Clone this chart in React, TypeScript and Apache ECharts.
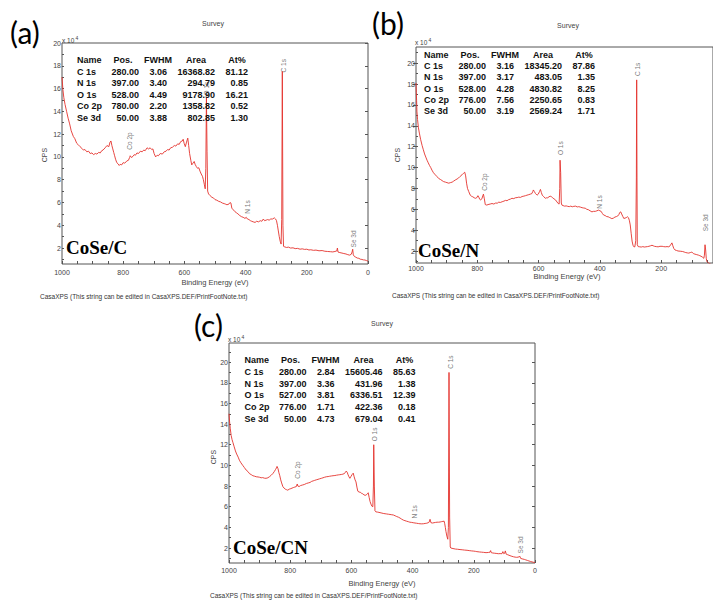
import React, { useEffect, useRef } from "react";
import * as echarts from "echarts";

// ---------------- DATA ----------------
const peakNames = ["C 1s", "N 1s", "O 1s", "Co 2p", "Se 3d"];
const tableHeaders = ["Name", "Pos.", "FWHM", "Area", "At%"];

const posA = ["280.00", "397.00", "528.00", "780.00", "50.00"];
const fwhmA = ["3.06", "3.40", "4.49", "2.20", "3.88"];
const areaA = ["16368.82", "294.79", "9178.90", "1358.82", "802.85"];
const atA = ["81.12", "0.85", "16.21", "0.52", "1.30"];

const posB = ["280.00", "397.00", "528.00", "776.00", "50.00"];
const fwhmB = ["3.16", "3.17", "4.28", "7.56", "3.19"];
const areaB = ["18345.20", "483.05", "4830.82", "2250.65", "2569.24"];
const atB = ["87.86", "1.35", "8.25", "0.83", "1.71"];

const posC = ["280.00", "397.00", "527.00", "776.00", "50.00"];
const fwhmC = ["2.84", "3.36", "3.81", "1.71", "4.73"];
const areaC = ["15605.46", "431.96", "6336.51", "422.36", "679.04"];
const atC = ["85.63", "1.38", "12.39", "0.18", "0.41"];

const xTickValues = [0, 50, 100, 150, 200, 250, 300, 350, 400, 450, 500, 550, 600, 650, 700, 750, 800, 850, 900, 950, 1000];
const xLabelValues = [0, 200, 400, 600, 800, 1000];
const yLabelValues = [2, 4, 6, 8, 10, 12, 14, 16, 18, 20];
const yMinorValues = [1, 2, 3, 4, 5, 6, 7, 8, 9, 10, 11, 12, 13, 14, 15, 16, 17, 18, 19, 20, 21];

// spectra: [binding energy (eV), CPS x 10^4]
const spectrumA = [
  [1000, 17.0], [997, 15.9], [994, 15.2], [990, 14.6], [985, 14.0], [980, 13.4], [975, 12.9], [970, 12.3], [963, 11.8], [958, 11.6], [952, 11.2], [948, 11.1], [941, 10.9], [935, 10.75], [930, 10.6], [925, 10.65], [919, 10.45], [913, 10.5], [908, 10.3], [902, 10.35], [897, 10.2], [891, 10.3], [886, 10.25], [880, 10.4], [875, 10.35], [870, 10.55], [866, 10.6], [859, 10.8], [853, 11.0], [847, 10.9], [843, 11.3], [840, 11.4], [837, 11.0], [834, 10.7], [831, 10.4], [828, 10.1], [825, 9.8], [821, 9.5], [817, 9.4], [813, 9.25], [810, 9.35], [805, 9.3], [800, 9.5], [795, 9.45], [788, 9.65], [783, 9.7], [779, 9.95], [777, 10.1], [773, 9.95], [768, 10.05], [764, 10.2], [760, 10.15], [755, 10.35], [750, 10.3], [744, 10.5], [738, 10.45], [733, 10.6], [728, 10.55], [722, 10.8], [717, 10.7], [712, 10.8], [707, 10.65], [703, 10.7], [699, 10.3], [694, 10.0], [689, 10.15], [685, 10.1], [679, 10.3], [672, 10.25], [666, 10.45], [660, 10.5], [655, 10.65], [650, 10.6], [645, 10.8], [639, 10.85], [633, 11.0], [628, 10.95], [622, 11.15], [617, 11.1], [612, 11.35], [607, 11.4], [604, 11.55], [601, 11.2], [597, 10.9], [593, 11.3], [589, 11.65], [586, 11.0], [583, 10.3], [579, 9.7], [576, 9.3], [572, 9.45], [568, 9.6], [565, 9.35], [561, 9.15], [557, 9.0], [553, 9.05], [549, 8.75], [545, 8.5], [541, 8.3], [538, 8.0], [535, 7.6], [532, 7.2], [530, 9.0], [528, 15.2], [526, 10.5], [524, 7.0], [521, 6.75], [516, 6.6], [510, 6.45], [505, 6.4], [500, 6.25], [494, 6.2], [488, 6.1], [482, 6.05], [476, 5.95], [470, 5.9], [465, 5.85], [461, 5.8], [455, 5.85], [451, 6.0], [448, 5.95], [445, 5.5], [440, 5.35], [435, 5.2], [430, 5.1], [425, 5.0], [419, 4.85], [413, 4.75], [408, 4.7], [402, 4.6], [398, 4.7], [394, 4.55], [389, 4.5], [384, 4.4], [380, 4.35], [375, 4.3], [369, 4.25], [364, 4.35], [358, 4.3], [352, 4.4], [347, 4.35], [342, 4.55], [338, 4.4], [333, 4.45], [328, 4.5], [323, 4.45], [318, 4.55], [312, 4.55], [306, 4.65], [302, 4.55], [299, 4.4], [296, 4.0], [293, 3.5], [290, 3.0], [287, 2.6], [284, 2.35], [282, 4.5], [280, 17.5], [278, 4.0], [276, 2.15], [272, 2.1], [266, 2.05], [260, 2.08], [253, 2.0], [245, 2.02], [238, 1.95], [230, 1.97], [222, 1.9], [215, 1.93], [207, 1.88], [200, 1.9], [193, 1.83], [187, 1.85], [178, 1.8], [170, 1.82], [160, 1.76], [150, 1.78], [141, 1.72], [132, 1.7], [123, 1.68], [115, 1.66], [108, 1.7], [102, 1.75], [100, 2.0], [98, 1.65], [92, 1.6], [85, 1.56], [79, 1.52], [72, 1.48], [66, 1.42], [60, 1.38], [55, 1.45], [52, 1.65], [50, 1.9], [48, 1.4], [44, 1.25], [40, 1.2], [35, 1.12], [30, 1.1], [25, 1.02], [20, 1.0], [15, 0.96], [10, 0.95], [5, 0.9], [0, 0.85]
];

const spectrumB = [
  [1000, 18.1], [999, 17.2], [998, 16.4], [997, 15.4], [995, 14.6], [992, 13.8], [989, 13.3], [985, 12.7], [980, 12.1], [976, 11.7], [972, 11.3], [968, 11.0], [964, 10.7], [960, 10.45], [956, 10.2], [952, 10.0], [948, 9.75], [943, 9.5], [937, 9.3], [932, 9.15], [926, 8.95], [920, 8.85], [915, 8.75], [910, 8.65], [904, 8.6], [899, 8.55], [893, 8.5], [888, 8.55], [882, 8.6], [877, 8.7], [872, 8.8], [866, 8.9], [861, 9.0], [856, 9.15], [850, 9.3], [845, 9.45], [841, 9.55], [838, 9.2], [835, 8.5], [832, 8.0], [828, 7.7], [823, 7.35], [819, 7.25], [815, 7.2], [810, 7.1], [806, 7.05], [802, 7.1], [798, 7.3], [795, 7.15], [792, 6.95], [789, 6.9], [785, 7.0], [782, 7.3], [780, 7.45], [777, 7.0], [774, 6.45], [769, 6.4], [765, 6.45], [758, 6.5], [752, 6.55], [746, 6.5], [740, 6.6], [735, 6.58], [730, 6.68], [725, 6.65], [719, 6.72], [713, 6.78], [708, 6.85], [703, 6.82], [698, 6.92], [692, 6.97], [687, 7.05], [681, 7.02], [676, 7.1], [670, 7.12], [665, 7.16], [659, 7.14], [654, 7.22], [648, 7.26], [643, 7.3], [638, 7.35], [632, 7.4], [627, 7.45], [622, 7.5], [619, 7.7], [617, 7.85], [614, 7.7], [610, 7.5], [605, 7.35], [601, 7.45], [597, 7.7], [594, 7.9], [591, 7.6], [588, 7.35], [583, 7.2], [578, 7.05], [574, 7.1], [570, 7.1], [566, 7.2], [562, 7.25], [558, 7.2], [554, 7.1], [550, 7.0], [545, 6.9], [540, 6.7], [536, 6.55], [533, 6.5], [531, 8.0], [530, 10.7], [528, 9.5], [526, 6.6], [524, 6.4], [520, 6.35], [515, 6.3], [510, 6.32], [505, 6.28], [500, 6.25], [495, 6.3], [490, 6.24], [485, 6.28], [479, 6.3], [474, 6.22], [469, 6.25], [463, 6.2], [458, 6.15], [453, 6.12], [448, 6.1], [443, 6.0], [437, 5.95], [432, 5.85], [426, 5.75], [421, 5.8], [415, 5.8], [410, 5.85], [404, 5.92], [400, 5.85], [396, 5.8], [392, 5.6], [388, 5.45], [383, 5.4], [378, 5.3], [373, 5.28], [368, 5.2], [364, 5.15], [361, 5.1], [356, 5.15], [351, 5.25], [346, 5.3], [342, 5.35], [338, 5.5], [335, 5.7], [332, 5.75], [329, 5.55], [325, 5.3], [322, 5.12], [318, 5.15], [314, 5.2], [310, 5.28], [307, 5.2], [304, 4.95], [301, 4.5], [298, 3.7], [295, 2.95], [292, 2.55], [289, 2.4], [286, 2.4], [283, 3.0], [281, 9.0], [280, 18.4], [279, 9.0], [278, 2.6], [275, 2.42], [270, 2.4], [265, 2.38], [260, 2.42], [255, 2.38], [250, 2.4], [245, 2.42], [240, 2.45], [235, 2.5], [230, 2.55], [226, 2.5], [222, 2.45], [216, 2.42], [210, 2.4], [204, 2.45], [197, 2.45], [192, 2.42], [187, 2.4], [181, 2.42], [175, 2.4], [171, 2.5], [168, 2.65], [165, 2.78], [162, 2.5], [159, 2.25], [155, 2.1], [150, 2.05], [145, 2.0], [138, 1.98], [130, 1.95], [125, 1.9], [120, 1.85], [115, 1.82], [110, 1.8], [105, 1.85], [100, 1.9], [95, 1.75], [90, 1.7], [84, 1.65], [78, 1.6], [74, 1.55], [70, 1.5], [65, 1.4], [61, 1.3], [59, 1.6], [57, 2.6], [55, 2.1], [53, 1.3], [51, 1.0], [48, 0.9], [45, 0.85], [40, 0.76], [36, 0.7], [31, 0.64]
];

const spectrumC = [
  [1000, 15.0], [998, 14.2], [996, 13.6], [993, 12.9], [990, 12.5], [987, 12.2], [983, 11.8], [979, 11.4], [975, 11.1], [970, 10.8], [966, 10.5], [961, 10.25], [955, 10.0], [950, 9.8], [944, 9.55], [938, 9.4], [933, 9.2], [927, 9.1], [922, 9.0], [916, 8.95], [911, 8.9], [905, 8.88], [900, 8.85], [895, 8.8], [890, 8.82], [884, 8.76], [879, 8.75], [873, 8.8], [868, 8.9], [862, 9.05], [857, 9.2], [852, 9.4], [848, 9.6], [845, 9.75], [843, 9.9], [840, 9.7], [837, 9.3], [834, 9.0], [831, 8.6], [828, 8.3], [824, 7.95], [820, 7.8], [816, 7.7], [812, 7.65], [808, 7.6], [803, 7.7], [798, 7.75], [794, 7.8], [790, 7.85], [785, 7.9], [780, 7.95], [777, 8.2], [775, 8.0], [771, 7.95], [766, 8.05], [760, 8.1], [754, 8.15], [747, 8.25], [741, 8.3], [735, 8.35], [730, 8.45], [725, 8.5], [720, 8.55], [715, 8.6], [709, 8.65], [704, 8.7], [698, 8.75], [693, 8.8], [688, 8.85], [682, 8.9], [676, 8.92], [671, 8.95], [665, 8.98], [660, 9.0], [654, 9.02], [649, 9.05], [643, 9.08], [638, 9.1], [633, 9.12], [628, 9.15], [624, 9.2], [620, 9.3], [617, 9.45], [614, 9.35], [611, 9.1], [608, 8.9], [605, 8.75], [602, 8.9], [598, 9.1], [594, 9.25], [591, 8.9], [588, 8.6], [585, 8.4], [582, 7.9], [579, 7.5], [575, 7.42], [571, 7.4], [567, 7.3], [563, 7.25], [559, 7.15], [555, 7.1], [551, 7.15], [548, 7.25], [545, 7.35], [542, 6.9], [539, 6.5], [536, 6.25], [533, 6.05], [530, 6.0], [528, 8.0], [527, 12.0], [525, 8.0], [523, 5.6], [520, 5.5], [515, 5.48], [510, 5.45], [503, 5.4], [496, 5.35], [490, 5.32], [485, 5.3], [479, 5.27], [474, 5.25], [468, 5.22], [463, 5.2], [457, 5.12], [452, 5.05], [446, 4.98], [441, 4.9], [436, 4.8], [430, 4.7], [425, 4.65], [420, 4.6], [414, 4.55], [409, 4.5], [403, 4.48], [398, 4.45], [392, 4.42], [387, 4.4], [381, 4.37], [376, 4.35], [370, 4.34], [365, 4.35], [359, 4.38], [354, 4.4], [349, 4.45], [346, 4.5], [343, 4.78], [340, 4.45], [335, 4.42], [330, 4.45], [325, 4.48], [320, 4.5], [315, 4.5], [310, 4.52], [306, 4.55], [301, 4.58], [297, 4.6], [295, 4.35], [293, 4.0], [291, 3.6], [288, 3.15], [285, 2.85], [283, 4.0], [281, 19.0], [279, 5.0], [277, 2.1], [275, 2.0], [268, 1.95], [260, 1.9], [253, 1.88], [245, 1.85], [238, 1.83], [230, 1.8], [222, 1.78], [215, 1.75], [207, 1.72], [200, 1.7], [195, 1.68], [190, 1.65], [182, 1.62], [175, 1.6], [168, 1.58], [160, 1.55], [152, 1.57], [147, 1.6], [145, 1.75], [143, 1.55], [138, 1.52], [133, 1.5], [127, 1.48], [120, 1.45], [114, 1.46], [108, 1.45], [105, 1.65], [102, 1.45], [99, 1.5], [97, 1.72], [94, 1.4], [89, 1.35], [85, 1.3], [78, 1.22], [70, 1.15], [65, 1.12], [60, 1.1], [55, 1.12], [52, 1.15], [50, 1.22], [47, 1.0], [42, 0.95], [35, 0.9], [30, 0.85], [25, 0.8], [20, 0.75], [15, 0.7], [10, 0.66], [5, 0.62], [0, 0.6]
];

// peak annotation anchors: [binding energy, CPS x 10^4] (label centre)
const peakLabelsA = [["C 1s", 277, 18.0], ["O 1s", 528, 16.0], ["Co 2p", 779, 11.4], ["N 1s", 394, 5.6], ["Se 3d", 48, 2.8]];
const peakLabelsB = [["C 1s", 276, 19.4], ["O 1s", 530, 11.85], ["Co 2p", 778, 8.6], ["N 1s", 400, 6.7], ["Se 3d", 54, 4.7]];
const peakLabelsC = [["C 1s", 277.7, 20.0], ["O 1s", 523.6, 13.0], ["Co 2p", 777, 9.55], ["N 1s", 394.4, 5.5], ["Se 3d", 48, 2.3]];

const sampleNames = ["CoSe/C", "CoSe/N", "CoSe/CN"];
const panelLetters = ["(a)", "(b)", "(c)"];
const surveyTitle = "Survey";
const xAxisTitle = "Binding Energy (eV)";
const yAxisTitle = "CPS";
const footNote = "CasaXPS (This string can be edited in CasaXPS.DEF/PrintFootNote.txt)";

// ---------------- LAYOUT ----------------
const SANS = '"Liberation Sans", Arial, sans-serif';
const LINE_RED = "#e4322d";
const AXIS_GREY = "#555";

type Panel = {
  grid: { left: number; top: number; width: number; height: number };
  xMin: number; xMax: number; yMin: number; yMax: number;
  data: number[][];
  peaks: (string | number)[][];
  table: { x: number; y: number; dy: number; cols: string[][] };
  letter: { x: number; y: number };
  survey: { x: number; y: number };
  exp: { x: number; y: number };
  cps: { x: number; y: number };
  xt: { x: number; y: number };
  foot: { x: number; y: number };
  sample: { x: number; y: number };
  labelMargin: number;
};

const panels: Panel[] = [
  {
    grid: { left: 62, top: 43, width: 306, height: 221 },
    xMin: 0, xMax: 1000, yMin: 0.6, yMax: 20,
    data: spectrumA, peaks: peakLabelsA,
    table: { x: 77, y: 60, dy: 11.6, cols: [posA, fwhmA, areaA, atA] },
    letter: { x: 10, y: 32 }, survey: { x: 213, y: 23 }, exp: { x: 62, y: 40 },
    cps: { x: 44, y: 155 }, xt: { x: 215, y: 282 }, foot: { x: 40, y: 296 },
    sample: { x: 66, y: 247 }, labelMargin: 5,
  },
  {
    grid: { left: 416, top: 47, width: 297, height: 216 },
    xMin: 31, xMax: 1000, yMin: 0.85, yMax: 21.55,
    data: spectrumB, peaks: peakLabelsB,
    table: { x: 424, y: 55, dy: 11.2, cols: [posB, fwhmB, areaB, atB] },
    letter: { x: 372, y: 23 }, survey: { x: 568, y: 25 }, exp: { x: 415, y: 42 },
    cps: { x: 397, y: 155 }, xt: { x: 567, y: 276 }, foot: { x: 392, y: 295 },
    sample: { x: 418, y: 250 }, labelMargin: 2,
  },
  {
    grid: { left: 229, top: 343, width: 306, height: 220 },
    xMin: 0, xMax: 1000, yMin: 0.55, yMax: 21.85,
    data: spectrumC, peaks: peakLabelsC,
    table: { x: 244.5, y: 360, dy: 11.8, cols: [posC, fwhmC, areaC, atC] },
    letter: { x: 194, y: 325 }, survey: { x: 382, y: 323 }, exp: { x: 228, y: 339 },
    cps: { x: 213, y: 457 }, xt: { x: 382, y: 583 }, foot: { x: 210, y: 595 },
    sample: { x: 233, y: 547 }, labelMargin: 4,
  },
];

const numRight = [62, 90, 138, 171];
const headCenter = [46, 81, 119, 160];

function txt(x: number, y: number, text: string, font: string, align = "left", vAlign = "middle", fill = "#222", rotation = 0) {
  return {
    type: "text", x, y, rotation, z: 10,
    style: { text, font, fill, align, verticalAlign: vAlign, textAlign: align, textVerticalAlign: vAlign },
  };
}

function buildOption() {
  const grid: any[] = [];
  const xAxis: any[] = [];
  const yAxis: any[] = [];
  const series: any[] = [];
  const graphic: any[] = [];

  panels.forEach((p, i) => {
    grid.push({ ...p.grid, show: true, borderColor: AXIS_GREY, borderWidth: 1, backgroundColor: "#fff" });
    xAxis.push({
      gridIndex: i, type: "value", inverse: true, min: p.xMin, max: p.xMax,
      axisLine: { show: false },
      axisTick: { show: true, inside: true, length: 3, lineStyle: { color: AXIS_GREY }, customValues: xTickValues.filter((v) => v >= p.xMin) },
      axisLabel: { fontSize: 7, color: "#444", fontFamily: SANS, margin: p.labelMargin, formatter: (v: number) => String(v), customValues: xLabelValues.filter((v) => v >= p.xMin) },
      splitLine: { show: false },
    });
    yAxis.push({
      gridIndex: i, type: "value", min: p.yMin, max: p.yMax, position: "left",
      axisLine: { show: false },
      axisTick: { show: true, inside: false, length: 3, lineStyle: { color: AXIS_GREY }, customValues: yLabelValues },
      axisLabel: { fontSize: 7, color: "#444", fontFamily: SANS, margin: 1, formatter: (v: number) => String(v), customValues: yLabelValues },
      splitLine: { show: false },
    });
    yAxis.push({
      gridIndex: i, type: "value", min: p.yMin, max: p.yMax, position: "left",
      axisLine: { show: false },
      axisTick: { show: true, inside: true, length: 2, lineStyle: { color: AXIS_GREY }, customValues: yMinorValues.filter((v) => v > p.yMin && v < p.yMax) },
      axisLabel: { show: false },
      splitLine: { show: false },
    });
    series.push({
      type: "line", xAxisIndex: i, yAxisIndex: i * 2, data: p.data, symbol: "none",
      lineStyle: { color: LINE_RED, width: 0.9 }, silent: true, clip: true,
    });
    series.push({
      type: "scatter", xAxisIndex: i, yAxisIndex: i * 2, symbolSize: 0, silent: true,
      data: p.peaks.map((d) => ({ name: d[0], value: [d[1], d[2]] })),
      label: { show: true, formatter: "{b}", rotate: 90, position: "inside", fontSize: 6.5, color: "#555", fontFamily: SANS },
    });

    // table
    const t = p.table;
    graphic.push(txt(t.x, t.y, tableHeaders[0], `bold 9px ${SANS}`, "left", "middle", "#111"));
    for (let c = 0; c < 4; c++) {
      graphic.push(txt(t.x + headCenter[c], t.y, tableHeaders[c + 1], `bold 9px ${SANS}`, "center", "middle", "#111"));
    }
    peakNames.forEach((n, r) => {
      const y = t.y + t.dy * (r + 1);
      graphic.push(txt(t.x, y, n, `bold 9px ${SANS}`, "left", "middle", "#111"));
      for (let c = 0; c < 4; c++) {
        graphic.push(txt(t.x + numRight[c], y, t.cols[c][r], `bold 9px ${SANS}`, "right", "middle", "#111"));
      }
    });

    graphic.push(txt(p.letter.x, p.letter.y, panelLetters[i], `30px Lato, "Open Sans", sans-serif`, "left", "middle", "#000"));
    graphic.push(txt(p.survey.x, p.survey.y, surveyTitle, `7px ${SANS}`, "center", "middle", "#444"));
    graphic.push(txt(p.exp.x, p.exp.y, "x 10", `6.5px ${SANS}`, "left", "middle", "#444"));
    graphic.push(txt(p.exp.x + 13.5, p.exp.y - 2, "4", `5px ${SANS}`, "left", "middle", "#444"));
    graphic.push(txt(p.cps.x, p.cps.y, yAxisTitle, `7px ${SANS}`, "center", "middle", "#444", Math.PI / 2));
    graphic.push(txt(p.xt.x, p.xt.y, xAxisTitle, `7.5px ${SANS}`, "center", "middle", "#444"));
    graphic.push(txt(p.foot.x, p.foot.y, footNote, `6.5px ${SANS}`, "left", "middle", "#333"));
    graphic.push(txt(p.sample.x, p.sample.y, sampleNames[i], `bold 19px "Liberation Serif", "Times New Roman", serif`, "left", "middle", "#000"));
  });

  return { animation: false, backgroundColor: "#fff", grid, xAxis, yAxis, series, graphic };
}

export default function App() {
  const ref = useRef<HTMLDivElement>(null);
  useEffect(() => {
    if (!ref.current) return;
    const chart = echarts.init(ref.current, undefined, { renderer: "svg" });
    chart.setOption(buildOption() as any);
    return () => chart.dispose();
  }, []);
  return (
    <div style={{ position: "fixed", left: 0, top: 0, width: 713, height: 601, overflow: "hidden", background: "#fff" }}>
      <div ref={ref} style={{ width: 713, height: 601 }} />
    </div>
  );
}
